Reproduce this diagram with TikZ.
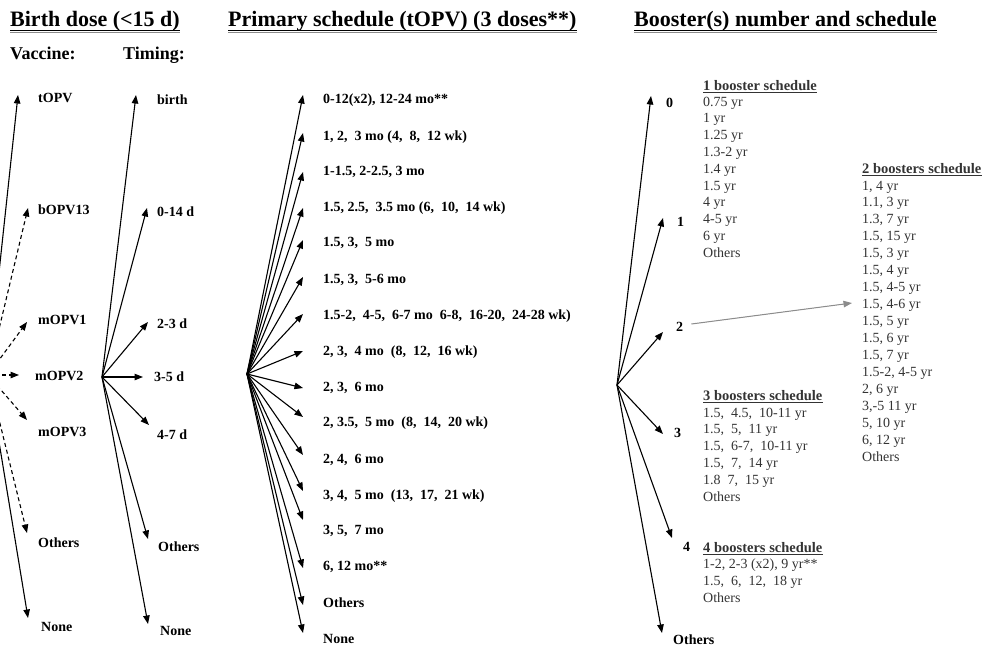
\documentclass[tikz,border=0pt]{standalone}
\usepackage{fontspec}
\setmainfont{Liberation Serif}
\usetikzlibrary{arrows.meta,calc}
\begin{document}
\begin{tikzpicture}[x=1pt,y=-1pt,
 lab/.style={font=\fontsize{14}{17}\selectfont\bfseries, anchor=west, inner sep=0pt},
 lst/.style={font=\fontsize{14}{17}\selectfont, anchor=base west, inner sep=0pt, text=black!80},
 lsth/.style={font=\fontsize{14.5}{17}\selectfont\bfseries, anchor=base west, inner sep=0pt, text=black!80},
 ttl/.style={font=\fontsize{22}{26}\selectfont\bfseries, anchor=base west, inner sep=0pt},
 subh/.style={font=\fontsize{18}{22}\selectfont\bfseries, anchor=base west, inner sep=0pt},
 arr/.style={-{Triangle[length=8.5pt,width=6.5pt]}, line width=1.1pt},
 dsh/.style={arr, dash pattern=on 4pt off 3pt},
 garr/.style={-{Triangle[length=8.5pt,width=6.5pt]}, line width=1pt, draw=black!45, fill=black!45},
 ul/.style={line width=1.8pt},
 ulsh/.style={line width=1pt, draw=black!45},
 hul/.style={line width=1.1pt, draw=black!80},
]
\useasboundingbox (0,0) rectangle (986,648);
\clip (0,0) rectangle (986,648);

% ---------- titles ----------
\node[ttl] (t1) at (10,26) {Birth dose (<15 d)};
\node[ttl] (t2) at (228,26) {Primary schedule (tOPV) (3 doses**)};
\node[ttl] (t3) at (634,26) {Booster(s) number and schedule};
\foreach \n in {t1,t2,t3}{
  \draw[ul] ($(\n.base west)+(0,4.5)$) -- ($(\n.base east)+(0,4.5)$);
  \draw[ulsh] ($(\n.base west)+(0,6.8)$) -- ($(\n.base east)+(0,6.8)$);
}
\node[subh] (s1) at (10,59) {Vaccine:};
\node[subh] (s2) at (123,59) {Timing:};

% ---------- vaccine fan ----------
\coordinate (v0) at (-12,375);
\node[lab] (v1) at (38,98) {tOPV};
\node[lab] (v2) at (38,210) {bOPV13};
\node[lab] (v3) at (38,320) {mOPV1};
\node[lab] (v4) at (35,376) {mOPV2};
\node[lab] (v5) at (38,432) {mOPV3};
\node[lab] (v6) at (38,543) {Others};
\node[lab] (v7) at (41,627) {None};
\coordinate (vt1) at (18,95);
\coordinate (vt2) at (28,208);
\coordinate (vt3) at (27,322);
\coordinate (vt4) at (19,375);
\coordinate (vt5) at (27,420);
\coordinate (vt6) at (27,533);
\coordinate (vt7) at (28,618);
\draw[arr] (v0) -- (vt1);
\foreach \i in {2,...,6} \draw[dsh] (v0) -- (vt\i);
\draw[arr] (v0) -- (vt7);

% ---------- timing fan ----------
\coordinate (m0) at (102,377);
\node[lab] (m1) at (157,100) {birth};
\node[lab] (m2) at (157,212) {0-14 d};
\node[lab] (m3) at (157,324) {2-3 d};
\node[lab] (m4) at (154,377) {3-5 d};
\node[lab] (m5) at (157,435) {4-7 d};
\node[lab] (m6) at (158,547) {Others};
\node[lab] (m7) at (160,631) {None};
\coordinate (mt1) at (136,95);
\coordinate (mt2) at (147,208);
\coordinate (mt3) at (148,322);
\coordinate (mt4) at (143,377);
\coordinate (mt5) at (149,425);
\coordinate (mt6) at (148,539);
\coordinate (mt7) at (148,624);
\foreach \i in {1,...,7} \draw[arr] (m0) -- (mt\i);

% ---------- primary schedule fan ----------
\coordinate (p0) at (247,374);
\node[lab] (p1) at (323,100) {0-12(x2), 12-24 mo**};
\node[lab] (p2) at (323,137) {1, 2,~ 3 mo (4,~ 8,~ 12 wk)};
\node[lab] (p3) at (323,172) {1-1.5, 2-2.5, 3 mo};
\node[lab] (p4) at (323,208) {1.5, 2.5,~ 3.5 mo (6,~ 10,~ 14 wk)};
\node[lab] (p5) at (323,243) {1.5, 3,~ 5 mo};
\node[lab] (p6) at (323,280) {1.5, 3,~ 5-6 mo};
\node[lab] (p7) at (323,316) {1.5-2,~ 4-5,~ 6-7 mo~ 6-8,~ 16-20,~ 24-28 wk)};
\node[lab] (p8) at (323,352) {2, 3,~ 4 mo~ (8,~ 12,~ 16 wk)};
\node[lab] (p9) at (323,388) {2, 3,~ 6 mo};
\node[lab] (p10) at (323,423) {2, 3.5,~ 5 mo~ (8,~ 14,~ 20 wk)};
\node[lab] (p11) at (323,460) {2, 4,~ 6 mo};
\node[lab] (p12) at (323,496) {3, 4,~ 5 mo~ (13,~ 17,~ 21 wk)};
\node[lab] (p13) at (323,531) {3, 5,~ 7 mo};
\node[lab] (p14) at (323,567) {6, 12 mo**};
\node[lab] (p15) at (323,603) {Others};
\node[lab] (p16) at (323,639) {None};
\coordinate (pt1) at (303,95);
\coordinate (pt2) at (303,133);
\coordinate (pt3) at (303,172);
\coordinate (pt4) at (303,208);
\coordinate (pt5) at (303,240);
\coordinate (pt6) at (303,277);
\coordinate (pt7) at (303,314);
\coordinate (pt8) at (303,351);
\coordinate (pt9) at (303,388);
\coordinate (pt10) at (303,417);
\coordinate (pt11) at (303,455);
\coordinate (pt12) at (303,491);
\coordinate (pt13) at (303,520);
\coordinate (pt14) at (303,568);
\coordinate (pt15) at (303,605);
\coordinate (pt16) at (303,633);
\foreach \i in {1,...,16} \draw[arr] (p0) -- (pt\i);

% ---------- booster fan ----------
\coordinate (b0) at (617,385);
\node[lab] (bl0) at (666,103) {0};
\node[lab] (bl1) at (677,222) {1};
\node[lab] (bl2) at (676,327) {2};
\node[lab] (bl3) at (674,433) {3};
\node[lab] (bl4) at (683,547) {4};
\node[lab] (bl5) at (673,640) {Others};
\coordinate (bt0) at (651,96);
\coordinate (bt1) at (663,218);
\coordinate (bt2) at (663,332);
\coordinate (bt3) at (663,434);
\coordinate (bt4) at (672,538);
\coordinate (bt5) at (662,633);
\foreach \i in {0,...,5} \draw[arr] (b0) -- (bt\i);

% ---------- booster lists ----------
\node[lsth] (h1) at (703,90) {1 booster schedule};
\foreach \t [count=\i] in {0.75 yr,1 yr,1.25 yr,1.3-2 yr,1.4 yr,1.5 yr,4 yr,4-5 yr,6 yr,Others}
  \node[lst] (a\i) at (703,{106+16.8*(\i-1)}) {\t};

\node[lsth] (h2) at (862,173) {2 boosters schedule};
\foreach \t [count=\i] in {{1, 4 yr},{1.1, 3 yr},{1.3, 7 yr},{1.5, 15 yr},{1.5, 3 yr},{1.5, 4 yr},{1.5, 4-5 yr},{1.5, 4-6 yr},{1.5, 5 yr},{1.5, 6 yr},{1.5, 7 yr},{1.5-2, 4-5 yr},{2, 6 yr},{3,-5 11 yr},{5, 10 yr},{6, 12 yr},Others}
  \node[lst] (c\i) at (862,{190+16.94*(\i-1)}) {\t};

\node[lsth] (h3) at (703,400) {3 boosters schedule};
\foreach \t [count=\i] in {{1.5,~ 4.5,~ 10-11 yr},{1.5,~ 5,~ 11 yr},{1.5,~ 6-7,~ 10-11 yr},{1.5,~ 7,~ 14 yr},{1.8~ 7,~ 15 yr},Others}
  \node[lst] (d\i) at (703,{417+16.8*(\i-1)}) {\t};

\node[lsth] (h4) at (703,552) {4 boosters schedule};
\foreach \t [count=\i] in {{1-2, 2-3 (x2), 9 yr**},{1.5,~ 6,~ 12,~ 18 yr},Others}
  \node[lst] (e\i) at (703,{568+17*(\i-1)}) {\t};

\foreach \n in {h1,h2,h3,h4}
  \draw[hul] ($(\n.base west)+(0,2.2)$) -- ($(\n.base east)+(0,2.2)$);

% ---------- gray arrow ----------
\coordinate (gt) at (852,303);
\draw[garr] ([xshift=8pt,yshift=3pt]bl2.east) -- (gt);
\end{tikzpicture}
\end{document}
